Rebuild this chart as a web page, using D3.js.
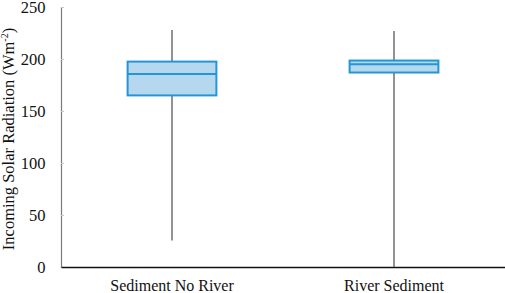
<!DOCTYPE html>
<html>
<head>
<meta charset="utf-8">
<script src="https://cdnjs.cloudflare.com/ajax/libs/d3/7.8.5/d3.min.js"></script>
<style>
  body { margin: 0; background: #fff; }
  svg, svg text { font-family: 'Liberation Serif', 'Times New Roman', serif; }
  svg { display: block; }
</style>
</head>
<body>
<div class="svg-container"></div>
<script>
// box plot summaries
var categories = ['Sediment No River', 'River Sediment'];
var whiskerLow = [25.5, 0];
var q1 = [165, 187];
var median = [185.5, 195];
var q3 = [197.5, 198.5];
var whiskerHigh = [228, 227];
var yTicks = [0, 50, 100, 150, 200, 250];

var width = 505, height = 293;
var margin = {top: 7, right: 0, bottom: 26, left: 61};

var svg = d3.select('.svg-container').append('svg')
  .attr('width', width)
  .attr('height', height);

var x = d3.scaleBand()
  .domain(categories)
  .range([margin.left, width - margin.right])
  .paddingInner(0)
  .paddingOuter(0);

var y = d3.scaleLinear()
  .domain([0, 250])
  .range([height - margin.bottom, margin.top]);

var rows = categories.map(function (c, i) {
  return {name: c, lo: whiskerLow[i], q1: q1[i], med: median[i], q3: q3[i], hi: whiskerHigh[i]};
});

// y axis: ticks point inward, grey
var yAxis = svg.append('g')
  .attr('transform', 'translate(' + margin.left + ',0)')
  .call(d3.axisLeft(y).tickValues(yTicks).tickSize(-3).tickPadding(15.5))
  .attr('font-family', null);
yAxis.select('.domain').attr('stroke', '#7a7a7a').attr('stroke-width', 1.2);
yAxis.selectAll('.tick line').attr('stroke', '#c8c8c8');
yAxis.selectAll('.tick text')
  .attr('fill', '#111')
  .style('font-size', '16.5px');

// x axis: plain dark line with labels
var xAxis = svg.append('g')
  .attr('transform', 'translate(0,' + y(0) + ')')
  .call(d3.axisBottom(x).tickSize(0).tickPadding(13))
  .attr('font-family', null);
xAxis.select('.domain').attr('stroke', '#111').attr('stroke-width', 1.5);
xAxis.selectAll('.tick text')
  .attr('fill', '#111')
  .style('font-size', '16px');

var boxW = x.bandwidth() * 0.4;

var g = svg.selectAll('.box')
  .data(rows)
  .enter()
  .append('g')
  .attr('class', 'box')
  .attr('transform', function (d) {
    return 'translate(' + (x(d.name) + x.bandwidth() / 2) + ',0)';
  });

g.append('line')
  .attr('x1', 0).attr('x2', 0)
  .attr('y1', function (d) { return y(d.lo); })
  .attr('y2', function (d) { return y(d.hi); })
  .attr('stroke', '#6e6e6e')
  .attr('stroke-width', 1.5);

g.append('rect')
  .attr('x', -boxW / 2)
  .attr('width', boxW)
  .attr('y', function (d) { return y(d.q3); })
  .attr('height', function (d) { return y(d.q1) - y(d.q3); })
  .attr('fill', '#b6d8ef')
  .attr('stroke', '#2296d6')
  .attr('stroke-width', 2);

g.append('line')
  .attr('x1', -boxW / 2).attr('x2', boxW / 2)
  .attr('y1', function (d) { return y(d.med); })
  .attr('y2', function (d) { return y(d.med); })
  .attr('stroke', '#2296d6')
  .attr('stroke-width', 2);

// y title with superscript
var title = svg.append('text')
  .attr('transform', 'translate(14,' + (y(125) + 2) + ') rotate(-90)')
  .attr('text-anchor', 'middle')
  .attr('fill', '#111')
  .style('font-size', '16.5px');
title.append('tspan').text('Incoming Solar Radiation (Wm');
title.append('tspan').attr('dy', -6).style('font-size', '10px').text('-2');
title.append('tspan').attr('dy', 6).text(')');
</script>
</body>
</html>
